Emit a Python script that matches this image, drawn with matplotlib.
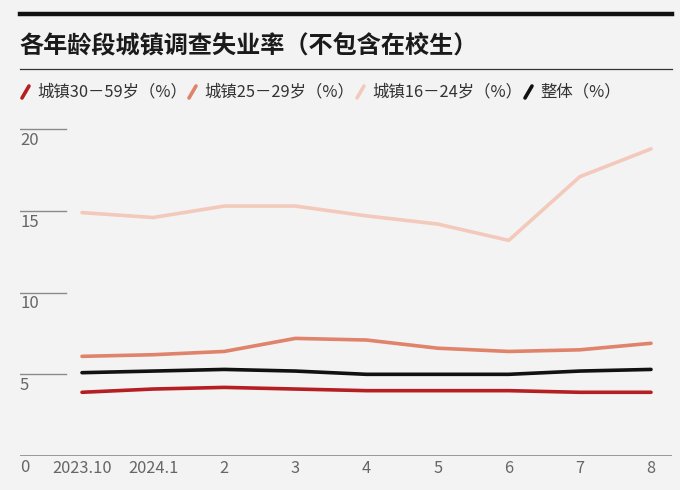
import matplotlib
matplotlib.use("Agg")
import matplotlib.pyplot as plt
from matplotlib.lines import Line2D

plt.rcParams['font.family'] = ['Noto Sans CJK SC', 'DejaVu Sans']

months = ["2023.10", "2024.1", "2", "3", "4", "5", "6", "7", "8"]
rate_30_59 = [3.9, 4.1, 4.2, 4.1, 4.0, 4.0, 4.0, 3.9, 3.9]
rate_25_29 = [6.1, 6.2, 6.4, 7.2, 7.1, 6.6, 6.4, 6.5, 6.9]
rate_16_24 = [14.9, 14.6, 15.3, 15.3, 14.7, 14.2, 13.2, 17.1, 18.8]
rate_all = [5.1, 5.2, 5.3, 5.2, 5.0, 5.0, 5.0, 5.2, 5.3]
y_ticks = [5, 10, 15, 20]

series = [
    ("城镇30－59岁（%）", rate_30_59, "#b51f22"),
    ("城镇25－29岁（%）", rate_25_29, "#e0836b"),
    ("城镇16－24岁（%）", rate_16_24, "#f3c9bb"),
    ("整体（%）", rate_all, "#111111"),
]

W, H = 680, 490
BG = "#f3f3f3"
fig = plt.figure(figsize=(W / 100, H / 100), dpi=100, facecolor=BG)

def fx(px):
    return px / W

def fy(py):
    return 1 - py / H

# Header
fig.add_artist(Line2D([fx(20), fx(672)], [fy(14), fy(14)], color="#111111", lw=3.2))
fig.text(fx(19), fy(45), "各年龄段城镇调查失业率（不包含在校生）", fontsize=17.4,
         fontweight="bold", color="#1a1a1a", va="center", ha="left")
fig.add_artist(Line2D([fx(20), fx(672)], [fy(69), fy(69)], color="#333333", lw=0.9))

# Legend
leg_x = [22, 189, 357, 525]
for (label, _, color), lx in zip(series, leg_x):
    fig.add_artist(Line2D([fx(lx), fx(lx + 7)], [fy(98), fy(86)], color=color, lw=2.6,
                          solid_capstyle="round"))
    fig.text(fx(lx + 15), fy(92), label, fontsize=11.8, color="#333333", va="center", ha="left")

# Axes
x0_px, x8_px = 82, 651
step = (x8_px - x0_px) / 8
left_px, right_px = 20, 672
y0_px, y20_px = 456, 129.3
unit = (y0_px - y20_px) / 20
ytop = 21.5
top_px = y0_px - ytop * unit

ax = fig.add_axes([fx(left_px), fy(y0_px), fx(right_px) - fx(left_px),
                   (y0_px - top_px) / H])
ax.set_facecolor(BG)
ax.set_xlim((left_px - x0_px) / step, 8 + (right_px - x8_px) / step)
ax.set_ylim(0, ytop)
for s in ax.spines.values():
    s.set_visible(False)
ax.axhline(0, color="#8a8a8a", lw=1.2)

grid_frac = (65.7 - left_px) / (right_px - left_px)
for v in y_ticks:
    ax.axhline(v, xmin=0, xmax=grid_frac, color="#8a8a8a", lw=1.0)
    ax.text(0.0, v - 0.68, str(v), transform=ax.get_yaxis_transform(),
            fontsize=12, color="#666666", va="center", ha="left")
ax.text(0.0, -0.68, "0", transform=ax.get_yaxis_transform(),
        fontsize=12, color="#666666", va="center", ha="left")

xs = list(range(len(months)))
for label, vals, color in [series[2], series[1], series[3], series[0]]:
    ax.plot(xs, vals, color=color, lw=2.6, solid_capstyle="round", solid_joinstyle="round")

ax.set_yticks([])
ax.set_xticks(xs)
ax.set_xticklabels(months, fontsize=11.8, color="#666666")
ax.tick_params(axis="x", length=0, pad=3)

fig.savefig("out.png", dpi=100, facecolor=BG)
